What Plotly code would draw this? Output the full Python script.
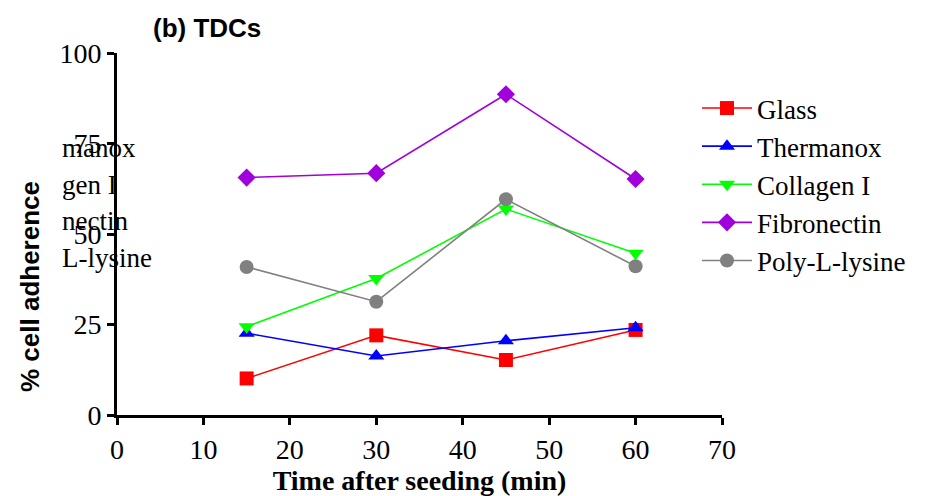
import plotly.graph_objects as go

time_min = [15, 30, 45, 60]
glass = [10.1, 22.0, 15.2, 23.5]
thermanox = [22.6, 16.3, 20.5, 24.1]
collagen = [24.4, 37.7, 56.9, 44.7]
fibronectin = [65.6, 66.8, 88.6, 65.2]
poly_lysine = [40.9, 31.3, 59.6, 41.1]

series = [
    ("Glass", glass, "#FF0000", "square"),
    ("Thermanox", thermanox, "#0000FF", "triangle-up"),
    ("Collagen I", collagen, "#00FF00", "triangle-down"),
    ("Fibronectin", fibronectin, "#A000DC", "diamond"),
    ("Poly-L-lysine", poly_lysine, "#808080", "circle"),
]

ghost_texts = ["manox", "gen I", "nectin", "L-lysine"]
ghost_y = [0.737, 0.635, 0.535, 0.433]

fig = go.Figure()
for name, vals, color, sym in series:
    fig.add_trace(go.Scatter(
        x=time_min, y=vals, name=name, mode="lines+markers",
        line=dict(color=color, width=1.6),
        marker=dict(symbol=sym, size=14, color=color),
        cliponaxis=False,
    ))

serif = "Liberation Serif, Times New Roman, serif"
sans = "Liberation Sans, Arial, sans-serif"

annotations = [
    dict(text="<b>(b) TDCs</b>", xref="paper", yref="paper",
         x=(207 - 117) / 605, y=(415 - 28) / 362, showarrow=False,
         font=dict(family=sans, size=26, color="black"),
         xanchor="center", yanchor="middle"),
    dict(text="<b>% cell adherence</b>", xref="paper", yref="paper",
         x=(30 - 117) / 605, y=(415 - 287) / 362, showarrow=False,
         textangle=-90, xanchor="center", yanchor="middle",
         font=dict(family=sans, size=26, color="black")),
]
for t, yy in zip(ghost_texts, ghost_y):
    annotations.append(dict(text=t, xref="paper", yref="paper",
                            x=(60 - 117) / 605, y=yy, showarrow=False,
                            xanchor="left", yanchor="middle",
                            font=dict(family=serif, size=27, color="black")))

fig.update_layout(
    width=932, height=496,
    margin=dict(l=109, r=218, t=45, b=89, autoexpand=False),
    plot_bgcolor="white", paper_bgcolor="white",
    showlegend=True,
    legend=dict(x=(697 - 117) / 605, y=(415 - 84) / 362, xanchor="left", yanchor="top",
                font=dict(family=serif, size=27, color="black"),
                bgcolor="rgba(0,0,0,0)", tracegroupgap=0, itemwidth=50),
    annotations=annotations,
    xaxis=dict(range=[0, 70], tickmode="array", tickvals=list(range(0, 80, 10)),
               automargin=False,
               showline=True, linecolor="black", linewidth=3, mirror=False,
               ticks="outside", ticklen=7, tickwidth=3, tickcolor="black",
               showgrid=False, zeroline=False,
               tickfont=dict(family=serif, size=28, color="black"),
               title=dict(text="<b>Time after seeding (min)</b>", standoff=4,
                          font=dict(family=serif, size=28, color="black"))),
    yaxis=dict(range=[0, 100], tickmode="array", tickvals=[0, 25, 50, 75, 100],
               automargin=False,
               showline=True, linecolor="black", linewidth=3, mirror=False,
               ticks="outside", ticklen=7, tickwidth=3, tickcolor="black",
               showgrid=False, zeroline=False,
               tickfont=dict(family=serif, size=28, color="black")),
)

fig.write_html("out.html")
